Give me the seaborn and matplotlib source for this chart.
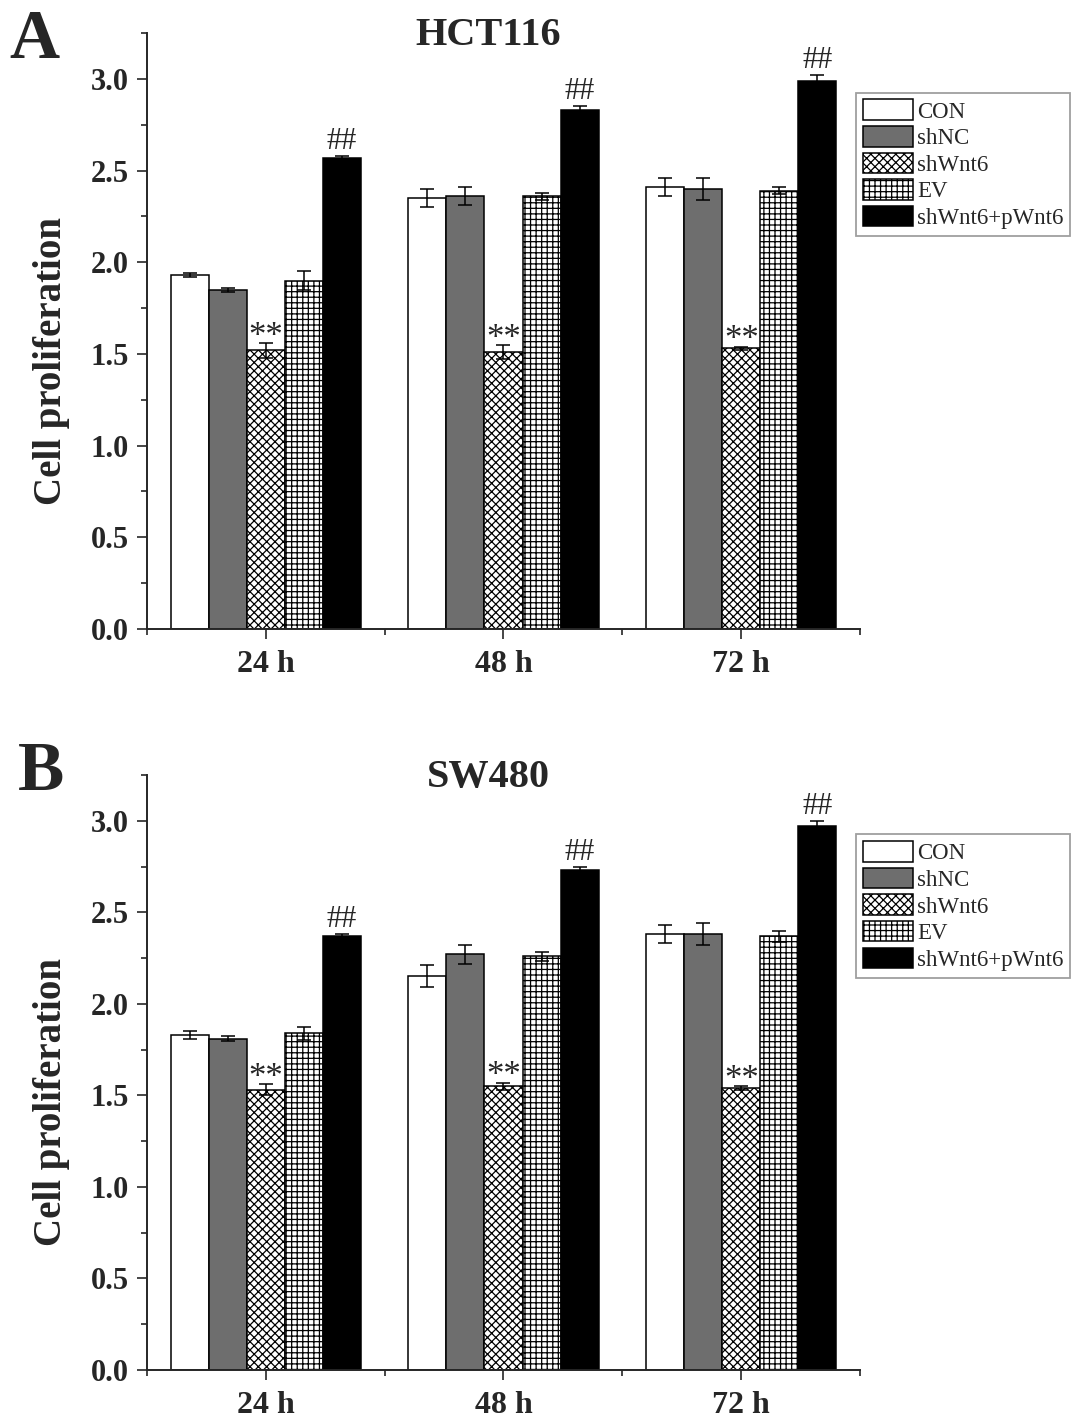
import numpy as np
import pandas as pd
import matplotlib
matplotlib.use("Agg")
import matplotlib.pyplot as plt
import seaborn as sns
from matplotlib.patches import Patch
from matplotlib.ticker import MultipleLocator, FixedLocator

# data
times = ["24 h", "48 h", "72 h"]
groups = ["CON", "shNC", "shWnt6", "EV", "shWnt6+pWnt6"]

hct_mean = {
    "CON": [1.93, 2.35, 2.41],
    "shNC": [1.85, 2.36, 2.40],
    "shWnt6": [1.52, 1.51, 1.53],
    "EV": [1.90, 2.36, 2.39],
    "shWnt6+pWnt6": [2.57, 2.83, 2.99],
}
hct_err = {
    "CON": [0.01, 0.05, 0.05],
    "shNC": [0.01, 0.05, 0.06],
    "shWnt6": [0.04, 0.04, 0.01],
    "EV": [0.05, 0.02, 0.02],
    "shWnt6+pWnt6": [0.01, 0.02, 0.03],
}
sw_mean = {
    "CON": [1.83, 2.15, 2.38],
    "shNC": [1.81, 2.27, 2.38],
    "shWnt6": [1.53, 1.55, 1.54],
    "EV": [1.84, 2.26, 2.37],
    "shWnt6+pWnt6": [2.37, 2.73, 2.97],
}
sw_err = {
    "CON": [0.02, 0.06, 0.05],
    "shNC": [0.015, 0.05, 0.06],
    "shWnt6": [0.03, 0.02, 0.01],
    "EV": [0.035, 0.025, 0.03],
    "shWnt6+pWnt6": [0.01, 0.02, 0.03],
}

colors = ["white", "#6e6e6e", "white", "white", "black"]
hatches = ["", "", "xxxx", "+++", ""]
marks = {"shWnt6": "**", "shWnt6+pWnt6": "##"}

sns.set_style("ticks")
plt.rcParams["font.family"] = ["Liberation Serif", "DejaVu Serif"]
plt.rcParams["hatch.linewidth"] = 0.9
plt.rcParams["axes.linewidth"] = 1.4


def draw_panel(ax, means, errs, title):
    df = pd.DataFrame([
        {"time": t, "group": g, "value": means[g][i]}
        for g in groups for i, t in enumerate(times)
    ])
    sns.barplot(data=df, x="time", y="value", hue="group", order=times,
                hue_order=groups, palette=colors, edgecolor="black",
                linewidth=1.1, errorbar=None, width=0.8, legend=False,
                saturation=1, ax=ax)

    for cont, g, h in zip(ax.containers, groups, hatches):
        for i, bar in enumerate(cont):
            bar.set_hatch(h)
            x = bar.get_x() + bar.get_width() / 2
            top = bar.get_height()
            e = errs[g][i]
            ax.errorbar(x, top, yerr=e, color="black", capsize=4.7,
                        elinewidth=1.1, capthick=1.1, zorder=5)
            if g in marks:
                off = -2 if g == "shWnt6" else 5
                fs = 25 if g == "shWnt6" else 22
                ax.annotate(marks[g], (x, top + e), xytext=(0, off),
                            textcoords="offset points", ha="center",
                            va="baseline", fontsize=fs)

    sns.despine(ax=ax)
    ax.set_ylim(0, 3.25)
    ax.set_xlim(-0.5, 2.5)
    ax.yaxis.set_major_locator(MultipleLocator(0.5))
    ax.yaxis.set_minor_locator(MultipleLocator(0.25))
    ax.xaxis.set_minor_locator(FixedLocator([-0.5, 0.5, 1.5, 2.5]))
    ax.tick_params(which="major", length=7, width=1.2, direction="out",
                   labelsize=22, pad=6)
    ax.tick_params(which="minor", length=4.5, width=1.2, direction="out")
    ax.tick_params(axis="x", which="major", pad=8)
    ax.set_yticklabels([f"{v:.1f}" for v in ax.get_yticks()], fontweight="bold")
    ax.set_xticks(range(len(times)))
    ax.set_xticklabels(times, fontweight="bold", fontsize=23)
    ax.set_xlabel("")
    ax.set_ylabel("Cell proliferation", fontsize=28, fontweight="bold")
    ax.yaxis.set_label_coords(-0.108, 0.45)
    ax.text(0.479, 0.98, title, transform=ax.transAxes, ha="center",
            va="baseline", fontsize=29, fontweight="bold")

    handles = [Patch(facecolor=c, edgecolor="black", hatch=h, linewidth=1.1)
               for c, h in zip(colors, hatches)]
    leg = ax.legend(handles, groups, loc="upper left",
                    bbox_to_anchor=(0.995, 0.9), fontsize=16.5,
                    frameon=True, fancybox=False, handlelength=2.15,
                    handleheight=1.0, labelspacing=0.15, handletextpad=0.2,
                    borderpad=0.3, borderaxespad=0)
    leg.get_frame().set_edgecolor("#888888")
    leg.get_frame().set_linewidth(1.3)


fig = plt.figure(figsize=(10.87, 14.28), dpi=100)
ax1 = fig.add_axes([0.1352, 0.5595, 0.656, 0.4174])
ax2 = fig.add_axes([0.1352, 0.0406, 0.656, 0.4167])

draw_panel(ax1, hct_mean, hct_err, "HCT116")
draw_panel(ax2, sw_mean, sw_err, "SW480")

fig.text(0.009, 1 - 58 / 1428, "A", fontsize=50, fontweight="bold",
         va="baseline")
fig.text(0.016, 1 - 790 / 1428, "B", fontsize=50, fontweight="bold",
         va="baseline")

fig.savefig("out.png", dpi=100)
